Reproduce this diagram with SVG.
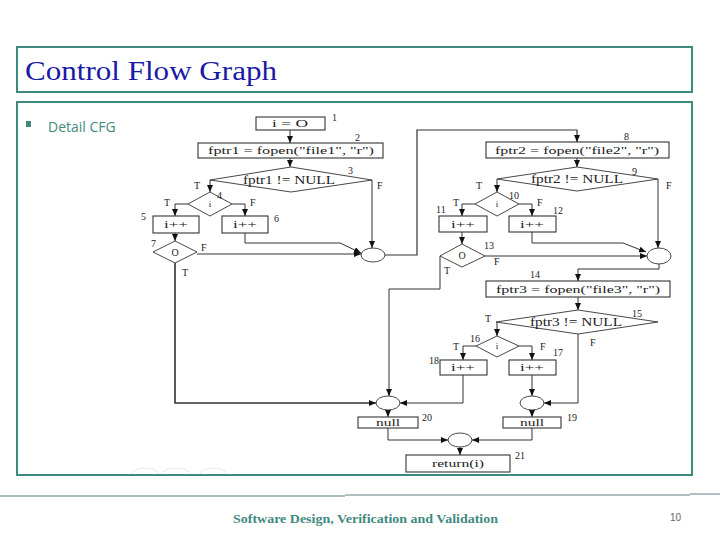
<svg xmlns="http://www.w3.org/2000/svg" width="720" height="540" viewBox="0 0 720 540">
<defs>
<marker id="ah" markerWidth="7" markerHeight="6" refX="7" refY="3" orient="auto" markerUnits="userSpaceOnUse"><path d="M0,0 L7,3 L0,6 z" fill="#111"/></marker>
</defs>
<style>
.frame{fill:#fff;stroke:#3f8a80;stroke-width:2}
.bx{fill:#fff;stroke:#333;stroke-width:1.1}
.dm{fill:#fff;stroke:#333;stroke-width:0.9}
.ci{fill:#fff;stroke:#333;stroke-width:0.9}
.t{font-family:"Liberation Serif",serif;fill:#222;text-anchor:middle}
.n{font-family:"Liberation Serif",serif;fill:#222;font-size:10px}
.c{fill:none;stroke:#333;stroke-width:1}
.ca{fill:none;stroke:#333;stroke-width:1;marker-end:url(#ah)}
</style>
<rect width="720" height="540" fill="#fff"/>
<g id="title">
<rect class="frame" x="17" y="47" width="675" height="45"/>
<text x="25" y="80" font-family="Liberation Serif,serif" font-size="28" fill="#1a1aa6" textLength="252" lengthAdjust="spacingAndGlyphs">Control Flow Graph</text>
</g>
<g id="content">
<rect class="frame" x="17" y="102" width="675" height="373"/>
<rect x="26" y="121" width="5" height="6" fill="#3f8a80"/>
<text x="48" y="132" font-family="Open Sans,sans-serif" font-size="14" fill="#3f8a80">Detail CFG</text>
<path d="M132,474 a13,6 0 0 1 26,0 M162,474 a14,6 0 0 1 28,0 M200,474 a13,6 0 0 1 26,0" fill="none" stroke="#e2eaea" stroke-width="1"/>
</g>
<g id="connectors">
<path class="ca" d="M290,130 V143"/>
<path class="ca" d="M290,158 V167"/>
<path class="ca" d="M210,180 V192"/>
<path class="ca" d="M188,204 H175 V216"/>
<path class="ca" d="M232,204 H245 V216"/>
<path class="ca" d="M175,233 V241"/>
<path class="ca" d="M245,233 V243 H340 L361,253"/>
<path class="ca" d="M372,180 V248"/>
<path class="ca" d="M197,254 H361"/>
<path class="ca" d="M385,255 H417 V130 H577 V142" style="stroke-width:1.2"/>
<path class="ca" d="M577,158 V167"/>
<path class="ca" d="M497,179 V192"/>
<path class="ca" d="M475,204 H462 V216"/>
<path class="ca" d="M519,204 H532 V216"/>
<path class="ca" d="M462,232 V244"/>
<path class="ca" d="M532,232 V243 H623 L646,252"/>
<path class="ca" d="M485,256 H647"/>
<path class="ca" d="M658,179 V248"/>
<path class="ca" d="M659,264 V269 H578 V281"/>
<path class="ca" d="M578,297 V310"/>
<path class="ca" d="M497,322 V336"/>
<path class="ca" d="M476,346 H463 V360"/>
<path class="ca" d="M519,346 H532 V360"/>
<path class="ca" d="M532,375 V396"/>
<path class="ca" d="M578,334 V403 H544"/>
<path class="ca" d="M463,375 V403 H400"/>
<path class="ca" d="M440,256 V289 H389 V396"/>
<path class="ca" d="M175,263 V403 H376" style="stroke-width:1.6"/>
<path class="ca" d="M388,410 V417"/>
<path class="ca" d="M532,410 V417"/>
<path class="ca" d="M388,428 V440 H448"/>
<path class="ca" d="M532,428 V440 H472"/>
<path class="ca" d="M460,447 V455"/>
</g>
<g id="n1"><rect class="bx" x="256" y="117" width="69" height="13"/><text class="t" x="290" y="127" font-size="10" textLength="36" lengthAdjust="spacingAndGlyphs">i = O</text><text class="n" x="332" y="121">1</text></g>
<g id="n2"><rect class="bx" x="198" y="143" width="185" height="15"/><text class="t" x="291" y="154" font-size="11" textLength="166" lengthAdjust="spacingAndGlyphs">fptr1 = fopen(&quot;file1&quot;, &quot;r&quot;)</text><text class="n" x="355" y="141">2</text></g>
<g id="n3"><polygon class="dm" points="291,167 372,180 291,192 210,180"/><text class="t" x="289" y="184" font-size="12" textLength="92" lengthAdjust="spacingAndGlyphs">fptr1 != NULL</text><text class="n" x="348" y="174">3</text><text class="n" x="194" y="189">T</text><text class="n" x="377" y="189">F</text></g>
<g id="n4"><polygon class="dm" points="210,192 232,204 210,216 188,204"/><text class="t" x="210" y="207" font-size="9">i</text><text class="n" x="217" y="199">4</text><text class="n" x="164" y="206">T</text><text class="n" x="250" y="206">F</text></g>
<g id="n5"><rect class="bx" x="153" y="216" width="46" height="17"/><text class="t" x="176" y="228" font-size="11" textLength="24" lengthAdjust="spacingAndGlyphs">i++</text><text class="n" x="141" y="220">5</text></g>
<g id="n6"><rect class="bx" x="222" y="216" width="46" height="17"/><text class="t" x="245" y="228" font-size="11" textLength="24" lengthAdjust="spacingAndGlyphs">i++</text><text class="n" x="274" y="222">6</text></g>
<g id="n7"><polygon class="dm" points="175,241 197,252 175,263 153,252"/><text class="t" x="175" y="256" font-size="10">O</text><text class="n" x="151" y="247">7</text><text class="n" x="201" y="251">F</text><text class="n" x="182" y="276">T</text></g>
<g id="m1"><ellipse class="ci" cx="373" cy="255" rx="12" ry="7"/></g>
<g id="n8"><rect class="bx" x="486" y="142" width="183" height="16"/><text class="t" x="577" y="154" font-size="11" textLength="164" lengthAdjust="spacingAndGlyphs">fptr2 = fopen(&quot;file2&quot;, &quot;r&quot;)</text><text class="n" x="624" y="140">8</text></g>
<g id="n9"><polygon class="dm" points="577,167 658,179 577,191 497,179"/><text class="t" x="577" y="183" font-size="12" textLength="92" lengthAdjust="spacingAndGlyphs">fptr2 != NULL</text><text class="n" x="632" y="175">9</text><text class="n" x="476" y="189">T</text><text class="n" x="666" y="189">F</text></g>
<g id="n10"><polygon class="dm" points="497,192 519,204 497,216 475,204"/><text class="t" x="497" y="207" font-size="9">i</text><text class="n" x="509" y="199">10</text><text class="n" x="453" y="206">T</text><text class="n" x="537" y="206">F</text></g>
<g id="n11"><rect class="bx" x="439" y="216" width="48" height="16"/><text class="t" x="463" y="228" font-size="11" textLength="24" lengthAdjust="spacingAndGlyphs">i++</text><text class="n" x="436" y="213">11</text></g>
<g id="n12"><rect class="bx" x="509" y="216" width="47" height="16"/><text class="t" x="532" y="228" font-size="11" textLength="24" lengthAdjust="spacingAndGlyphs">i++</text><text class="n" x="553" y="214">12</text></g>
<g id="n13"><polygon class="dm" points="462,244 485,256 462,267 440,256"/><text class="t" x="462" y="259" font-size="10">O</text><text class="n" x="484" y="249">13</text><text class="n" x="494" y="265">F</text><text class="n" x="444" y="274">T</text></g>
<g id="m2"><ellipse class="ci" cx="659" cy="256" rx="12" ry="8"/></g>
<g id="n14"><rect class="bx" x="486" y="281" width="184" height="16"/><text class="t" x="578" y="293" font-size="11" textLength="164" lengthAdjust="spacingAndGlyphs">fptr3 = fopen(&quot;file3&quot;, &quot;r&quot;)</text><text class="n" x="530" y="278">14</text></g>
<g id="n15"><polygon class="dm" points="578,310 658,322 578,334 496,322"/><text class="t" x="576" y="326" font-size="12" textLength="92" lengthAdjust="spacingAndGlyphs">fptr3 != NULL</text><text class="n" x="632" y="317">15</text><text class="n" x="485" y="322">T</text><text class="n" x="590" y="346">F</text></g>
<g id="n16"><polygon class="dm" points="497,336 519,346 497,357 476,346"/><text class="t" x="497" y="349" font-size="9">i</text><text class="n" x="470" y="342">16</text><text class="n" x="453" y="350">T</text><text class="n" x="540" y="350">F</text></g>
<g id="n18"><rect class="bx" x="440" y="360" width="47" height="15"/><text class="t" x="463" y="371" font-size="11" textLength="24" lengthAdjust="spacingAndGlyphs">i++</text><text class="n" x="429" y="364">18</text></g>
<g id="n17"><rect class="bx" x="509" y="360" width="47" height="15"/><text class="t" x="532" y="371" font-size="11" textLength="24" lengthAdjust="spacingAndGlyphs">i++</text><text class="n" x="553" y="356">17</text></g>
<g id="m3"><ellipse class="ci" cx="388" cy="403" rx="12" ry="7"/></g>
<g id="m4"><ellipse class="ci" cx="532" cy="403" rx="12" ry="7"/></g>
<g id="n20"><rect class="bx" x="358" y="417" width="60" height="11"/><text class="t" x="388" y="426" font-size="10" textLength="24" lengthAdjust="spacingAndGlyphs">null</text><text class="n" x="422" y="421">20</text></g>
<g id="n19"><rect class="bx" x="503" y="417" width="58" height="11"/><text class="t" x="532" y="426" font-size="10" textLength="24" lengthAdjust="spacingAndGlyphs">null</text><text class="n" x="567" y="421">19</text></g>
<g id="m5"><ellipse class="ci" cx="460" cy="440" rx="12" ry="7"/></g>
<g id="n21"><rect class="bx" x="406" y="455" width="104" height="17"/><text class="t" x="458" y="467" font-size="11" textLength="52" lengthAdjust="spacingAndGlyphs">return(i)</text><text class="n" x="515" y="459">21</text></g>
<g id="footer">
<path d="M0,496 H345 M345,495 H690 M690,494 H720" stroke="#5f7f86" stroke-width="1.2" fill="none"/>
<text x="233" y="523" font-family="Liberation Serif,serif" font-size="13" font-weight="bold" fill="#3f8a80" textLength="265" lengthAdjust="spacingAndGlyphs">Software Design, Verification and Validation</text>
<text x="670" y="521" font-family="Liberation Sans,sans-serif" font-size="10" fill="#666">10</text>
</g>
</svg>
